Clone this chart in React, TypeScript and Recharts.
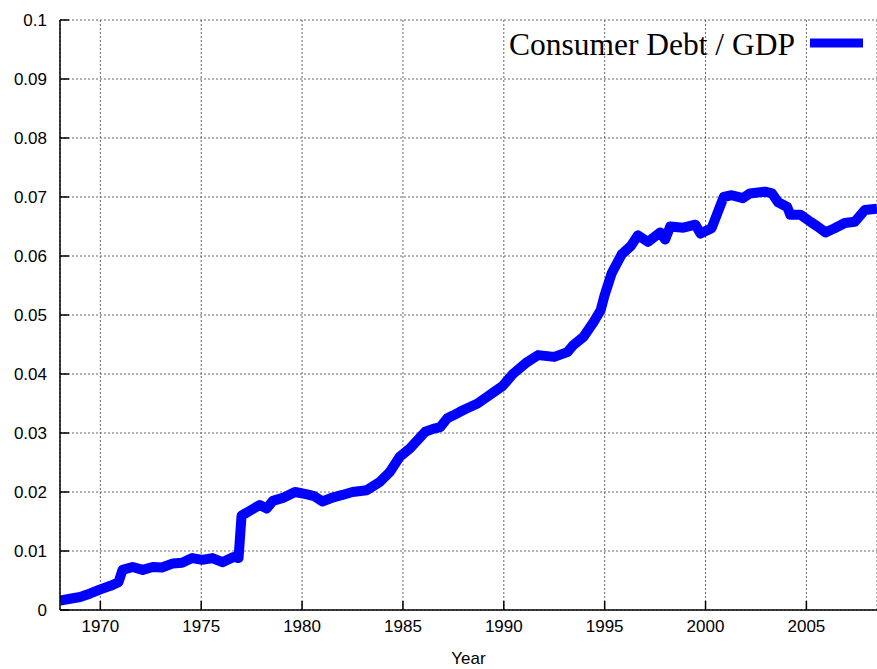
import React from 'react';
import { LineChart, Line, XAxis, YAxis, CartesianGrid } from 'recharts';

const years = [
  1968.0, 1968.5, 1969.0, 1969.5, 1970.0, 1970.5, 1970.9, 1971.1, 1971.6, 1972.1,
  1972.6, 1973.05, 1973.6, 1974.05, 1974.55, 1975.05, 1975.55, 1976.05, 1976.6, 1976.85,
  1977.0, 1977.5, 1977.9, 1978.25, 1978.55, 1979.05, 1979.65, 1980.25, 1980.6, 1981.0,
  1981.55, 1982.0, 1982.5, 1983.2, 1983.85, 1984.35, 1984.85, 1985.35, 1986.1, 1986.5,
  1986.85, 1987.2, 1987.5, 1988.0, 1988.7, 1989.45, 1989.95, 1990.45, 1991.15, 1991.7,
  1992.5, 1993.15, 1993.45, 1993.95, 1994.45, 1994.8, 1995.0, 1995.35, 1995.85, 1996.3,
  1996.65, 1997.15, 1997.75, 1998.0, 1998.25, 1998.9, 1999.5, 1999.75, 2000.3, 2000.9,
  2001.3, 2001.85, 2002.2, 2002.95, 2003.3, 2003.6, 2004.05, 2004.2, 2004.7, 2005.2,
  2005.55, 2005.95, 2006.4, 2006.9, 2007.4, 2007.9, 2008.5,
];

const debtToGdp = [
  0.0016, 0.0019, 0.0022, 0.0028, 0.0035, 0.0041, 0.0047, 0.0068, 0.0073, 0.0068,
  0.0073, 0.0072, 0.0079, 0.008, 0.0088, 0.0085, 0.0088, 0.0081, 0.009, 0.0088,
  0.016, 0.017, 0.0178, 0.0172, 0.0185, 0.019, 0.02, 0.0196, 0.0193, 0.0184,
  0.0191, 0.0195, 0.02, 0.0203, 0.0217, 0.0234, 0.026, 0.0274, 0.0302, 0.0307,
  0.031, 0.0325, 0.033, 0.0339, 0.035, 0.0368, 0.038, 0.04, 0.042, 0.0432,
  0.0429, 0.0437, 0.0449, 0.0463, 0.0488, 0.0508, 0.0534, 0.0571, 0.0603, 0.0617,
  0.0635, 0.0624, 0.064, 0.0628, 0.065, 0.0648, 0.0653, 0.0638, 0.0647, 0.07,
  0.0703, 0.0698, 0.0706, 0.0709, 0.0706, 0.0691, 0.0683, 0.067, 0.067, 0.0658,
  0.065, 0.064, 0.0647, 0.0656, 0.0658, 0.0678, 0.068,
];

const xTicks = [1970, 1975, 1980, 1985, 1990, 1995, 2000, 2005];
const yTicks = [0, 0.01, 0.02, 0.03, 0.04, 0.05, 0.06, 0.07, 0.08, 0.09, 0.1];
const seriesName = 'Consumer Debt / GDP';

const data = years.map((year, i) => ({ year, value: debtToGdp[i] }));

const tickFont = { fill: '#000', fontSize: 17, fontFamily: '"Liberation Sans", Arial, sans-serif' };

export default function App() {
  return (
    <div style={{ position: 'fixed', left: 0, top: 0, width: 877, height: 669, background: '#fff' }}>
      <LineChart width={877} height={669} data={data} margin={{ top: 20, right: 0, left: 0, bottom: 0 }}>
        <CartesianGrid stroke="#666" strokeDasharray="2 2" />
        <XAxis
          dataKey="year"
          type="number"
          domain={[1968, 2008.5]}
          ticks={xTicks}
          allowDataOverflow
          height={59}
          tickSize={-9}
          tickMargin={19}
          tick={tickFont}
          axisLine={{ stroke: '#000', strokeWidth: 1.5 }}
          tickLine={{ stroke: '#000', strokeWidth: 1.5 }}
          label={{ value: 'Year', position: 'insideBottom', offset: 5, ...tickFont }}
        />
        <XAxis
          xAxisId="top"
          orientation="top"
          dataKey="year"
          type="number"
          domain={[1968, 2008.5]}
          ticks={xTicks}
          allowDataOverflow
          height={0}
          tickSize={-9}
          tickFormatter={() => ''}
          axisLine={{ stroke: '#000', strokeWidth: 1.5 }}
          tickLine={{ stroke: '#000', strokeWidth: 1.5 }}
        />
        <YAxis
          type="number"
          domain={[0, 0.1]}
          ticks={yTicks}
          width={60}
          tickSize={-9}
          tickMargin={22}
          tick={tickFont}
          tickFormatter={(v: number) => String(v)}
          axisLine={{ stroke: '#000', strokeWidth: 1.5 }}
          tickLine={{ stroke: '#000', strokeWidth: 1.5 }}
        />
        <Line
          type="linear"
          dataKey="value"
          name={seriesName}
          stroke="#0000ff"
          strokeWidth={10}
          strokeLinejoin="round"
          dot={false}
          isAnimationActive={false}
        />
      </LineChart>
      <svg width={877} height={669} style={{ position: 'absolute', left: 0, top: 0, pointerEvents: 'none' }}>
        <text
          x={795}
          y={55}
          textAnchor="end"
          fontSize={31.5}
          fontFamily='"Liberation Serif", "Times New Roman", serif'
          fill="#000"
        >
          {seriesName}
        </text>
        <line x1={810} x2={863} y1={43} y2={43} stroke="#0000ff" strokeWidth={9} />
      </svg>
    </div>
  );
}
